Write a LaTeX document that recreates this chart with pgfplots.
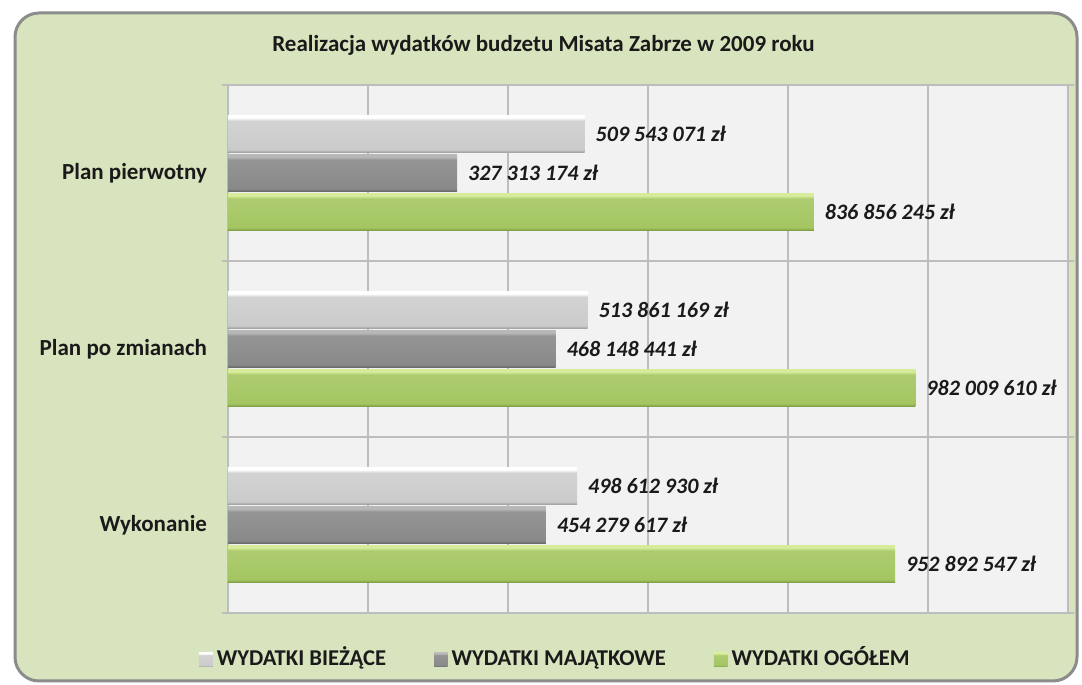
\documentclass[border=0pt]{standalone}
\usepackage{fontspec}
\setmainfont{Carlito}
\usepackage{pgfplots}
\pgfplotsset{compat=1.18}
\definecolor{panel}{HTML}{D7E4BD}
\definecolor{panelborder}{HTML}{8C8C8C}
\definecolor{plotbg}{HTML}{F2F2F2}
\definecolor{gridc}{HTML}{BDBDBD}
\definecolor{textc}{HTML}{1A1A1A}
\definecolor{lbbase}{HTML}{CBCBCB}
\definecolor{lbdk}{HTML}{9E9E9E}
\definecolor{lbhi}{HTML}{FFFFFF}
\definecolor{dbbase}{HTML}{898989}
\definecolor{dbdk}{HTML}{666666}
\definecolor{dbhi}{HTML}{B8B8B8}
\definecolor{gbbase}{HTML}{A4C661}
\definecolor{gbdk}{HTML}{7C9A40}
\definecolor{gbhi}{HTML}{D6EC9A}
\pgfdeclareverticalshading{lightbar}{100bp}{color(0bp)=(lbdk); color(25bp)=(lbdk); color(29bp)=(lbbase); color(68bp)=(lbbase!85!white); color(72bp)=(lbhi); color(100bp)=(lbhi)}
\pgfdeclareverticalshading{darkbar}{100bp}{color(0bp)=(dbdk); color(25bp)=(dbdk); color(29bp)=(dbbase); color(68bp)=(dbbase!90!white); color(72bp)=(dbhi); color(100bp)=(dbhi)}
\pgfdeclareverticalshading{greenbar}{100bp}{color(0bp)=(gbdk); color(25bp)=(gbdk); color(29bp)=(gbbase); color(68bp)=(gbbase!90!white); color(72bp)=(gbhi); color(100bp)=(gbhi)}
\pgfplotsset{
  lightb/.style={xbar, bar shift=19.5pt, draw=none, shading=lightbar},
  darkb/.style={xbar, bar shift=0pt, draw=none, shading=darkbar},
  greenb/.style={xbar, bar shift=-19.5pt, draw=none, shading=greenbar},
}
\begin{document}
\begin{tikzpicture}
\useasboundingbox (0,0) rectangle (541pt,342.5pt);
\fill[white] (0,0) rectangle (541pt,342.5pt);
\draw[panelborder, line width=1.5pt, fill=panel, rounded corners=12pt] (7.5pt,2pt) rectangle (538.5pt,336pt);
\node[font=\bfseries\fontsize{11.5}{13}\selectfont, text=textc] at (271.75pt,320pt) {Realizacja wydatków budzetu Misata Zabrze w 2009 roku};
\begin{axis}[
  at={(114pt,36pt)}, anchor=south west,
  scale only axis, width=420pt, height=264pt,
  xbar, bar width=18.5pt,
  xmin=0, xmax=1.2e9, ymin=-0.5, ymax=2.5,
  scaled x ticks=false,
  xtick={0,2e8,4e8,6e8,8e8,1e9,1.2e9}, xticklabels={},
  xmajorgrids,
  ytick={0,1,2}, yticklabels={Wykonanie,Plan po zmianach,Plan pierwotny},
  minor ytick={-0.5,0.5,1.5,2.5}, yminorgrids,
  major tick length=0pt, minor tick length=3pt, tick align=outside,
  tick style={gridc, line width=0.6pt},
  grid style={gridc, line width=0.6pt},
  axis line style={gridc, line width=0.6pt},
  axis background/.style={fill=plotbg},
  yticklabel style={font=\bfseries\fontsize{11.5}{13}\selectfont, text=textc, xshift=-7pt},
  clip=false,
  point meta=explicit symbolic,
  nodes near coords,
  every node near coord/.append style={font=\bfseries\itshape\fontsize{11}{13}\selectfont, text=textc, anchor=west, xshift=2pt},
  legend style={at={(0.391,-0.089)}, anchor=center, draw=none, fill=none, legend columns=3,
    font=\bfseries\fontsize{11.3}{13}\selectfont, text=textc,
    nodes={text height=8pt, text depth=2.5pt, inner xsep=2pt},
    /tikz/every even column/.append style={column sep=22pt}},
  legend image code/.code={\path[#1, draw=none] (0pt,-3.3pt) rectangle (6.8pt,3.5pt);},
]
\addplot[lightb] coordinates {(509543071,2) [509 543 071 zł]};
\addlegendentry{WYDATKI BIEŻĄCE}
\addplot[darkb] coordinates {(327313174,2) [327 313 174 zł]};
\addlegendentry{WYDATKI MAJĄTKOWE}
\addplot[greenb] coordinates {(836856245,2) [836 856 245 zł]};
\addlegendentry{WYDATKI OGÓŁEM}
\addplot[lightb, forget plot] coordinates {(513861169,1) [513 861 169 zł]};
\addplot[darkb, forget plot] coordinates {(468148441,1) [468 148 441 zł]};
\addplot[greenb, forget plot] coordinates {(982009610,1) [982 009 610 zł]};
\addplot[lightb, forget plot] coordinates {(498612930,0) [498 612 930 zł]};
\addplot[darkb, forget plot] coordinates {(454279617,0) [454 279 617 zł]};
\addplot[greenb, forget plot] coordinates {(952892547,0) [952 892 547 zł]};
\end{axis}
\end{tikzpicture}
\end{document}
